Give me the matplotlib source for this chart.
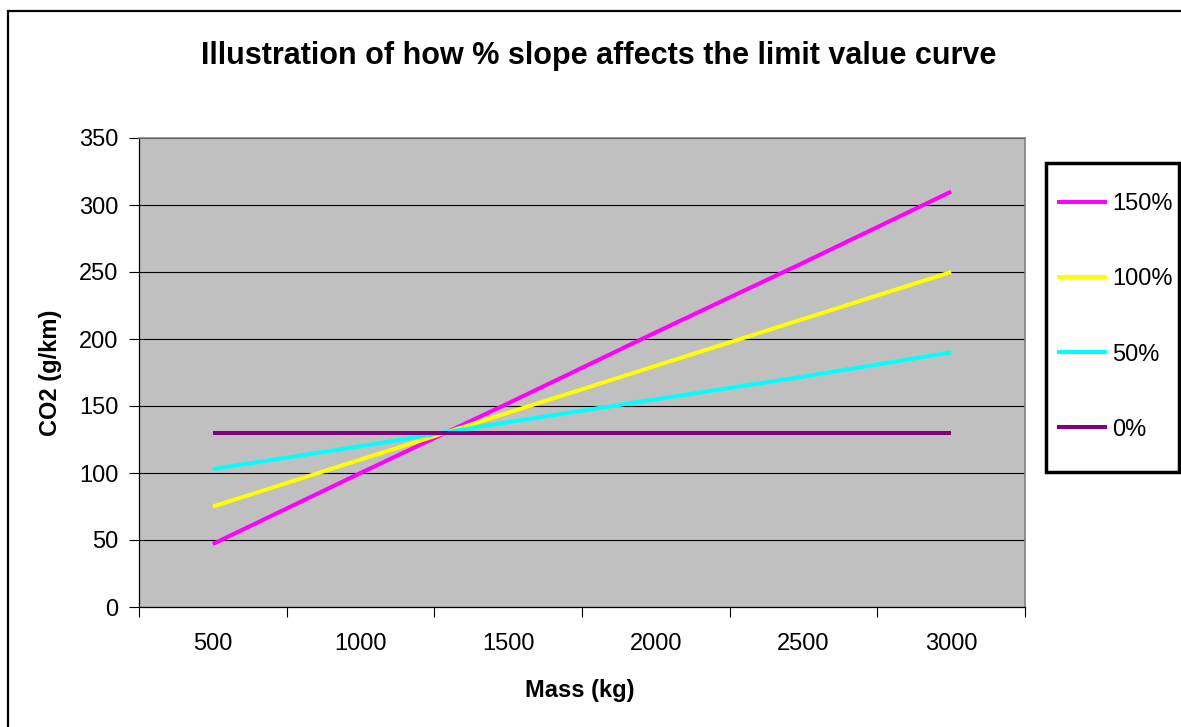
import numpy as np
import matplotlib.pyplot as plt
from matplotlib.patches import Rectangle

plt.rcParams['font.family'] = ['Liberation Sans', 'DejaVu Sans']

# data
mass = ["500", "1000", "1500", "2000", "2500", "3000"]
slope_150 = [47, 100, 152, 205, 257, 310]
slope_100 = [75, 110, 145, 180, 215, 250]
slope_50 = [103, 120, 138, 155, 172, 190]
slope_0 = [130, 130, 130, 130, 130, 130]

series = [
    ("150%", slope_150, "#FF00FF"),
    ("100%", slope_100, "#FFFF00"),
    ("50%", slope_50, "#00FFFF"),
    ("0%", slope_0, "#800080"),
]

W, H = 1181, 727
fig = plt.figure(figsize=(W / 100, H / 100), dpi=100)
ax = fig.add_axes([139 / W, 1 - 607 / H, (1025 - 139) / W, (607 - 138) / H])
ax.set_facecolor("#C0C0C0")

x = np.arange(len(mass))
handles = []
for name, vals, col in series:
    h, = ax.plot(x, vals, color=col, lw=2.9, solid_capstyle="butt", label=name)
    handles.append(h)

ax.set_xlim(-0.5, len(mass) - 0.5)
ax.set_ylim(0, 350)
ax.set_yticks(np.arange(0, 351, 50))
ax.yaxis.grid(True, color="black", lw=0.8)
ax.set_axisbelow(True)

ax.set_xticks(x)
ax.set_xticklabels(mass)
ax.set_xticks(np.arange(-0.5, len(mass), 1), minor=True)
ax.tick_params(axis="x", which="major", length=0, pad=19, labelsize=17)
ax.tick_params(axis="x", which="minor", length=7, width=0.8, direction="out")
ax.tick_params(axis="y", length=7, width=0.8, pad=8, labelsize=17)

for s in ["left", "bottom"]:
    ax.spines[s].set_color("black")
    ax.spines[s].set_linewidth(0.9)
for s in ["top", "right"]:
    ax.spines[s].set_color("#808080")
    ax.spines[s].set_linewidth(1.2)

ax.set_xlabel("Mass (kg)", fontsize=17, fontweight="bold")
ax.set_ylabel("CO2 (g/km)", fontsize=17, fontweight="bold")
ax.xaxis.set_label_coords((580 - 139) / 886, (607 - 690) / 469)
ax.xaxis.label.set_verticalalignment("center")
ax.yaxis.set_label_coords((51 - 139) / 886, 0.5)
ax.yaxis.label.set_verticalalignment("center")

fig.text(599 / W, 1 - 56 / H, "Illustration of how % slope affects the limit value curve",
         ha="center", va="center", fontsize=22, fontweight="bold")

# legend: frame drawn separately, entries placed inside
leg = fig.legend(handles=handles, loc="center left",
                 bbox_to_anchor=(1057 / W, 1 - 317 / H),
                 fontsize=17, frameon=False,
                 handlelength=2.1, handletextpad=0.25, labelspacing=2.25,
                 borderpad=0, borderaxespad=0)
fig.patches.append(Rectangle((1046 / W, 1 - 472 / H), (1179 - 1046) / W, (472 - 163) / H,
                             transform=fig.transFigure, fill=False,
                             edgecolor="black", lw=2.5))

# outer chart border
fig.patches.append(Rectangle((8 / W, -0.05), 1.2, 1 - 11 / H + 0.05,
                             transform=fig.transFigure, fill=False,
                             edgecolor="black", lw=1.6))

fig.savefig("out.png", dpi=100)
